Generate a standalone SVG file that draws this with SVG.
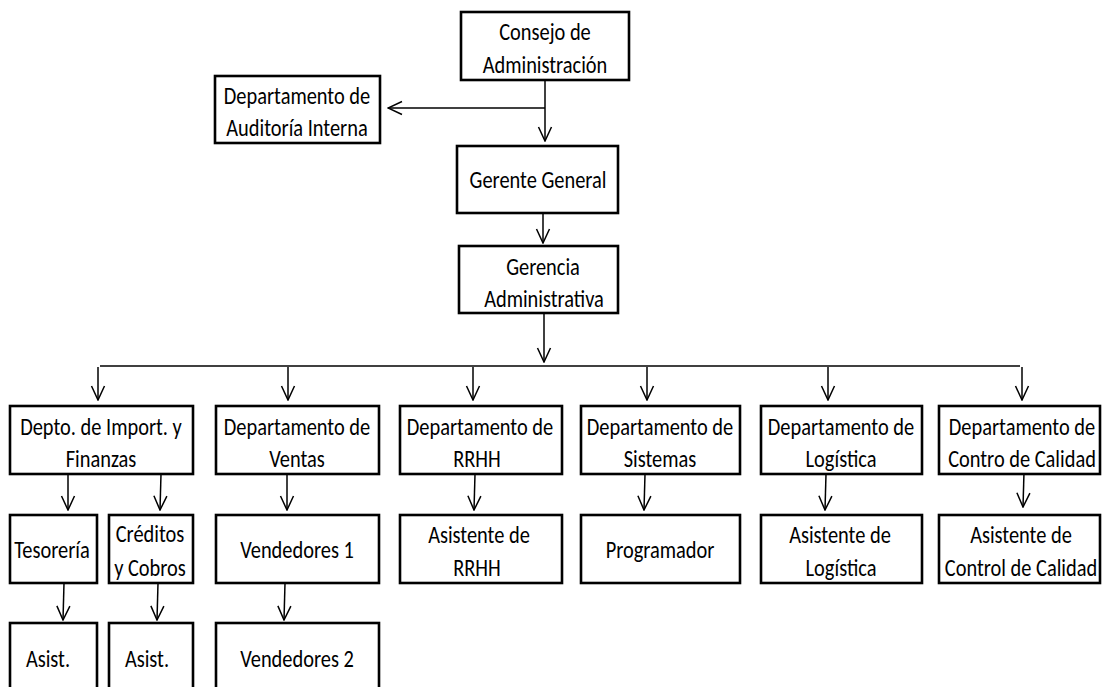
<svg xmlns="http://www.w3.org/2000/svg" width="1102" height="687" viewBox="0 0 1102 687">
<style>
.box{fill:#fff;stroke:#000;stroke-width:2.6}
.t{font-family:Carlito,Lato,"Liberation Sans",sans-serif;font-size:25px;fill:#000;text-anchor:middle}
.c{fill:none;stroke:#000;stroke-width:1.5}
</style>
<defs>
<marker id="ah" markerUnits="userSpaceOnUse" markerWidth="16" markerHeight="16" viewBox="0 0 16 16" refX="15" refY="8" orient="auto">
<path d="M1,1.5 L15,8 L1,14.5" fill="none" stroke="#000" stroke-width="1.5"/>
</marker>
</defs>
<rect width="1102" height="687" fill="#fff"/>
<g id="connectors">
<line class="c" x1="545" y1="80" x2="545" y2="141" marker-end="url(#ah)"/>
<line class="c" x1="545" y1="108" x2="388" y2="108" marker-end="url(#ah)"/>
<line class="c" x1="543" y1="213" x2="543" y2="243" marker-end="url(#ah)"/>
<line class="c" x1="544" y1="313" x2="544" y2="362" marker-end="url(#ah)"/>
<line class="c" x1="100" y1="366" x2="1020" y2="366"/>
<line class="c" x1="98" y1="367" x2="98" y2="400" marker-end="url(#ah)"/>
<line class="c" x1="288" y1="367" x2="288" y2="400" marker-end="url(#ah)"/>
<line class="c" x1="473" y1="367" x2="473" y2="400" marker-end="url(#ah)"/>
<line class="c" x1="647" y1="367" x2="647" y2="400" marker-end="url(#ah)"/>
<line class="c" x1="828" y1="367" x2="828" y2="400" marker-end="url(#ah)"/>
<line class="c" x1="1022" y1="367" x2="1022" y2="400" marker-end="url(#ah)"/>
<line class="c" x1="68" y1="474" x2="68" y2="510" marker-end="url(#ah)"/>
<line class="c" x1="161" y1="474" x2="160" y2="510" marker-end="url(#ah)"/>
<line class="c" x1="287" y1="474" x2="287" y2="510" marker-end="url(#ah)"/>
<line class="c" x1="475" y1="474" x2="474" y2="510" marker-end="url(#ah)"/>
<line class="c" x1="645" y1="474" x2="644" y2="510" marker-end="url(#ah)"/>
<line class="c" x1="826" y1="474" x2="825" y2="510" marker-end="url(#ah)"/>
<line class="c" x1="1024" y1="472" x2="1023" y2="507" marker-end="url(#ah)"/>
<line class="c" x1="64" y1="583" x2="63" y2="620" marker-end="url(#ah)"/>
<line class="c" x1="158" y1="583" x2="157" y2="620" marker-end="url(#ah)"/>
<line class="c" x1="285" y1="583" x2="284" y2="620" marker-end="url(#ah)"/>
</g>
<g id="consejo"><rect class="box" x="461" y="12" width="168" height="68"/>
<text class="t" transform="translate(545,40) scale(0.816,1)">Consejo de</text>
<text class="t" transform="translate(545,73) scale(0.816,1)">Administración</text></g>
<g id="auditoria"><rect class="box" x="215" y="76" width="165" height="67"/>
<text class="t" transform="translate(297,104) scale(0.816,1)">Departamento de</text>
<text class="t" transform="translate(297,136) scale(0.816,1)">Auditoría Interna</text></g>
<g id="gerente"><rect class="box" x="457" y="146" width="161" height="67"/>
<text class="t" transform="translate(538,188) scale(0.816,1)">Gerente General</text></g>
<g id="gerencia"><rect class="box" x="459" y="246" width="159" height="67"/>
<text class="t" transform="translate(543,275) scale(0.816,1)">Gerencia</text>
<text class="t" transform="translate(544,307) scale(0.816,1)">Administrativa</text></g>
<g id="import"><rect class="box" x="10" y="406" width="183" height="68"/>
<text class="t" transform="translate(101,435) scale(0.816,1)">Depto. de Import. y</text>
<text class="t" transform="translate(101,467) scale(0.816,1)">Finanzas</text></g>
<g id="ventas"><rect class="box" x="216" y="406" width="163" height="68"/>
<text class="t" transform="translate(297,435) scale(0.816,1)">Departamento de</text>
<text class="t" transform="translate(297,467) scale(0.816,1)">Ventas</text></g>
<g id="rrhh"><rect class="box" x="400" y="406" width="162" height="68"/>
<text class="t" transform="translate(480,435) scale(0.816,1)">Departamento de</text>
<text class="t" transform="translate(477,467) scale(0.816,1)">RRHH</text></g>
<g id="sistemas"><rect class="box" x="581" y="406" width="159" height="68"/>
<text class="t" transform="translate(660,435) scale(0.816,1)">Departamento de</text>
<text class="t" transform="translate(660,467) scale(0.816,1)">Sistemas</text></g>
<g id="logistica"><rect class="box" x="761" y="406" width="161" height="68"/>
<text class="t" transform="translate(841,435) scale(0.816,1)">Departamento de</text>
<text class="t" transform="translate(841,467) scale(0.816,1)">Logística</text></g>
<g id="calidad"><rect class="box" x="939" y="406" width="161" height="68"/>
<text class="t" transform="translate(1022,435) scale(0.816,1)">Departamento de</text>
<text class="t" transform="translate(1022,467) scale(0.816,1)">Contro de Calidad</text></g>
<g id="tesoreria"><rect class="box" x="10" y="515" width="87" height="68"/>
<text class="t" transform="translate(52,558) scale(0.816,1)">Tesorería</text></g>
<g id="creditos"><rect class="box" x="109" y="515" width="84" height="68"/>
<text class="t" transform="translate(150,542) scale(0.816,1)">Créditos</text>
<text class="t" transform="translate(150,576) scale(0.816,1)">y Cobros</text></g>
<g id="vendedores1"><rect class="box" x="216" y="515" width="163" height="68"/>
<text class="t" transform="translate(297,558) scale(0.816,1)">Vendedores 1</text></g>
<g id="asist-rrhh"><rect class="box" x="400" y="515" width="162" height="68"/>
<text class="t" transform="translate(479,543) scale(0.816,1)">Asistente de</text>
<text class="t" transform="translate(477,576) scale(0.816,1)">RRHH</text></g>
<g id="programador"><rect class="box" x="581" y="515" width="159" height="68"/>
<text class="t" transform="translate(660,558) scale(0.816,1)">Programador</text></g>
<g id="asist-logistica"><rect class="box" x="761" y="515" width="161" height="68"/>
<text class="t" transform="translate(840,543) scale(0.816,1)">Asistente de</text>
<text class="t" transform="translate(841,576) scale(0.816,1)">Logística</text></g>
<g id="asist-calidad"><rect class="box" x="939" y="515" width="161" height="68"/>
<text class="t" transform="translate(1021,543) scale(0.816,1)">Asistente de</text>
<text class="t" transform="translate(1021,576) scale(0.816,1)">Control de Calidad</text></g>
<g id="asist-tesoreria"><rect class="box" x="10" y="623" width="87" height="80"/>
<text class="t" transform="translate(48,667) scale(0.816,1)">Asist.</text></g>
<g id="asist-creditos"><rect class="box" x="109" y="623" width="84" height="80"/>
<text class="t" transform="translate(147,667) scale(0.816,1)">Asist.</text></g>
<g id="vendedores2"><rect class="box" x="216" y="623" width="163" height="80"/>
<text class="t" transform="translate(297,667) scale(0.816,1)">Vendedores 2</text></g>
</svg>
